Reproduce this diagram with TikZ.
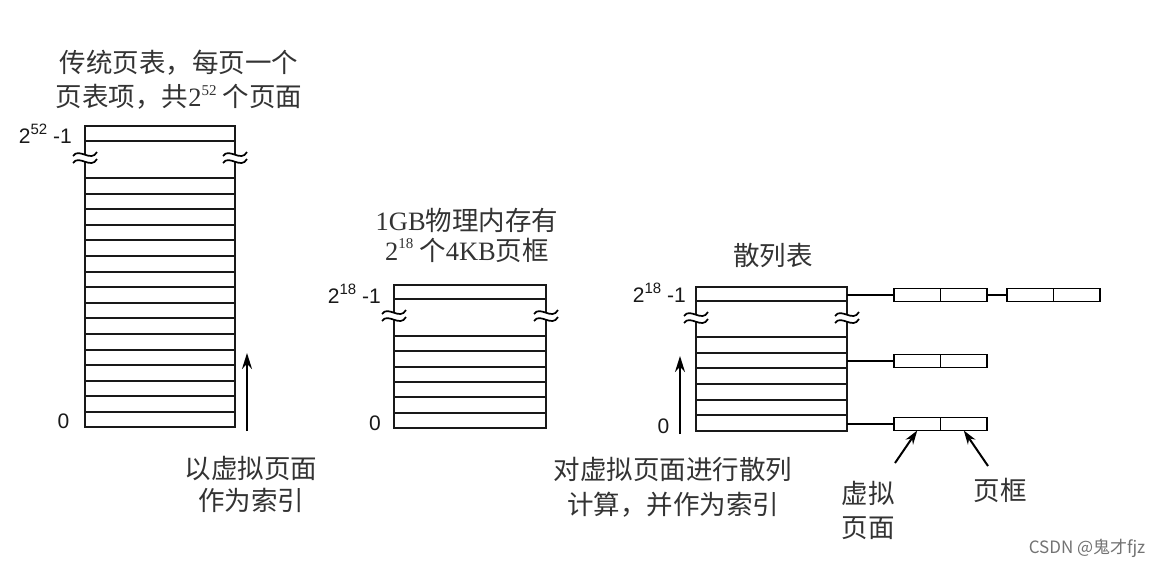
\documentclass[tikz,border=0pt]{standalone}
\usepackage{fontspec}
\setmainfont{Liberation Serif}
\newfontfamily\cjk{Noto Sans CJK SC}
\newfontfamily\arialf{Liberation Sans}
\usetikzlibrary{arrows.meta}
\newcommand{\supnum}[1]{\raisebox{0.42em}{\fontsize{15}{15}\selectfont #1}}
\begin{document}
\begin{tikzpicture}[x=1pt,y=-1pt,
  tbl/.style={line width=1.8pt, black!90},
  lbl/.style={font=\arialf\fontsize{21}{24}\selectfont, inner sep=0pt, text=black!90},
  captxt/.style={font=\cjk\fontsize{26.5}{34}\selectfont, align=center, inner sep=0pt, text=black!80},
  cell/.style={draw, line width=1.8pt, minimum width=46.5pt, minimum height=13pt, inner sep=0pt, outer sep=0pt},
  ptr/.style={line width=1.5pt},
  upar/.style={line width=2pt, -{Stealth[length=16pt,width=10pt]}},
  brk/.pic={
    \draw[line width=1.7pt] (-12,2) .. controls (-6,-7) and (6,9) .. (12,-2);
    \draw[line width=1.7pt] (-12,9) .. controls (-6,0) and (6,16) .. (12,5);
  }
]
\useasboundingbox (0,0) rectangle (1170,571);
\fill[white] (0,0) rectangle (1170,571);

% ---------- left table ----------
\draw[tbl] (85,155) -- (85,126) -- (235,126) -- (235,155);
\draw[tbl] (85,162) -- (85,427) -- (235,427) -- (235,162);
\draw[tbl] (85,141) -- (235,141);
\foreach \yy in {178,194,209,225,240,256,272,287,303,318,334,350,365,381,396,412} \draw[tbl] (85,\yy) -- (235,\yy);
\pic at (85,154) {brk};
\pic at (235,154) {brk};
\node[lbl, anchor=base east] (l52) at (72,143) {2\supnum{52} -1};
\node[lbl, anchor=base] (l0) at (63.5,428) {0};
\node[captxt] (t1) at (179,79.5) {传统页表，每页一个\\页表项，共{\rmfamily 2\supnum{52}} 个页面};
\coordinate (la0) at (247,431);
\coordinate (la1) at (247,353);
\draw[upar] (la0) -- (la1);
\node[captxt, font=\cjk\fontsize{26.5}{32}\selectfont] (t2) at (251,484) {以虚拟页面\\作为索引};

% ---------- middle table ----------
\draw[tbl] (394,313) -- (394,285) -- (546,285) -- (546,313);
\draw[tbl] (394,320) -- (394,428) -- (546,428) -- (546,320);
\draw[tbl] (394,299) -- (546,299);
\foreach \yy in {336,351,367,382,397,413} \draw[tbl] (394,\yy) -- (546,\yy);
\pic at (394,312) {brk};
\pic at (546,312) {brk};
\node[lbl, anchor=base east] (m18) at (381,303) {2\supnum{18} -1};
\node[lbl, anchor=base] (m0) at (375,430) {0};
\node[captxt, font=\cjk\fontsize{26.5}{30}\selectfont] (t3) at (467,235) {{\rmfamily 1GB}物理内存有\\{\rmfamily 2\supnum{18}} 个{\rmfamily 4KB}页框};

% ---------- hash table ----------
\draw[tbl] (696,315) -- (696,287) -- (847,287) -- (847,315);
\draw[tbl] (696,322) -- (696,431) -- (847,431) -- (847,322);
\draw[tbl] (696,301) -- (847,301);
\foreach \yy in {337,353,368,384,400,415} \draw[tbl] (696,\yy) -- (847,\yy);
\pic at (696,314) {brk};
\pic at (847,314) {brk};
\node[lbl, anchor=base east] (h18) at (686,302) {2\supnum{18} -1};
\node[lbl, anchor=base] (h0) at (663.5,433) {0};
\node[captxt] (t4) at (773,255) {散列表};
\coordinate (ha0) at (680,434);
\coordinate (ha1) at (680,356);
\draw[upar] (ha0) -- (ha1);
\node[captxt, font=\cjk\fontsize{26.5}{35}\selectfont] (t5) at (673,487.5) {对虚拟页面进行散列\\计算，并作为索引};

% chains
\coordinate (h1) at (847,295);
\coordinate (h2) at (847,361);
\coordinate (h3) at (847,424);
\node[cell, anchor=west] (b1a) at (894,295) {};
\node[cell, anchor=west] (b1b) at (b1a.east) {};
\node[cell, anchor=west] (b4a) at (1007,295) {};
\node[cell, anchor=west] (b4b) at (b4a.east) {};
\node[cell, anchor=west] (b2a) at (894,361) {};
\node[cell, anchor=west] (b2b) at (b2a.east) {};
\node[cell, anchor=west] (b3a) at (894,424) {};
\node[cell, anchor=west] (b3b) at (b3a.east) {};
\draw[ptr] (h1) -- (b1a.west);
\draw[ptr] (b1b.east) -- (b4a.west);
\draw[ptr] (h2) -- (b2a.west);
\draw[ptr] (h3) -- (b3a.west);

\node[captxt, font=\cjk\fontsize{26.5}{34}\selectfont] (t6) at (868,510) {虚拟\\页面};
\node[captxt] (t7) at (1000,490) {页框};
\coordinate (pa) at (895,463);
\coordinate (pb) at (988,466);
\draw[line width=2pt, -{Stealth[length=14pt,width=9pt]}] (pa) -- (b3a.south);
\draw[line width=2pt, -{Stealth[length=14pt,width=9pt]}] (pb) -- (b3b.south);

\node[font=\cjk\fontsize{17}{20}\selectfont, text=black!55, inner sep=0pt] (wm) at (1087,548) {CSDN @鬼才fjz};
\end{tikzpicture}
\end{document}
